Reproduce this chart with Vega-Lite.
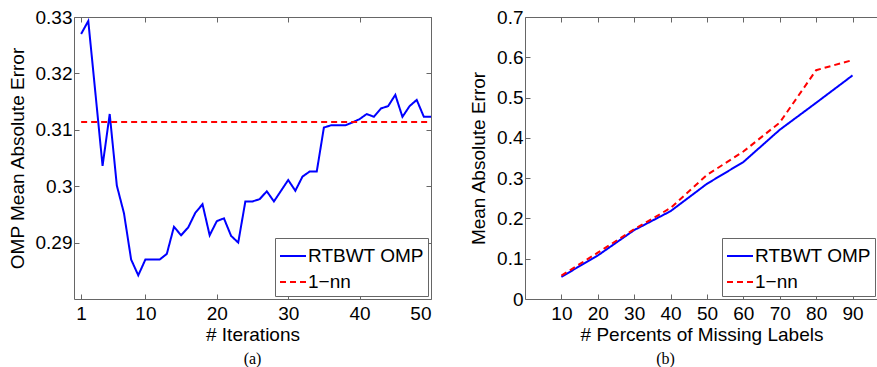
{
  "$schema": "https://vega.github.io/schema/vega-lite/v6.json",
  "padding": {"left": 8, "top": 8, "right": 0, "bottom": 0},
  "spacing": 37,
  "datasets": {
    "a": [
      {"iter": 1, "mae": 0.3270, "series": "RTBWT OMP"},
      {"iter": 2, "mae": 0.3293, "series": "RTBWT OMP"},
      {"iter": 3, "mae": 0.3165, "series": "RTBWT OMP"},
      {"iter": 4, "mae": 0.3036, "series": "RTBWT OMP"},
      {"iter": 5, "mae": 0.3128, "series": "RTBWT OMP"},
      {"iter": 6, "mae": 0.3001, "series": "RTBWT OMP"},
      {"iter": 7, "mae": 0.2952, "series": "RTBWT OMP"},
      {"iter": 8, "mae": 0.2870, "series": "RTBWT OMP"},
      {"iter": 9, "mae": 0.2842, "series": "RTBWT OMP"},
      {"iter": 10, "mae": 0.2870, "series": "RTBWT OMP"},
      {"iter": 11, "mae": 0.2870, "series": "RTBWT OMP"},
      {"iter": 12, "mae": 0.2870, "series": "RTBWT OMP"},
      {"iter": 13, "mae": 0.2880, "series": "RTBWT OMP"},
      {"iter": 14, "mae": 0.2928, "series": "RTBWT OMP"},
      {"iter": 15, "mae": 0.2913, "series": "RTBWT OMP"},
      {"iter": 16, "mae": 0.2927, "series": "RTBWT OMP"},
      {"iter": 17, "mae": 0.2953, "series": "RTBWT OMP"},
      {"iter": 18, "mae": 0.2968, "series": "RTBWT OMP"},
      {"iter": 19, "mae": 0.2913, "series": "RTBWT OMP"},
      {"iter": 20, "mae": 0.2938, "series": "RTBWT OMP"},
      {"iter": 21, "mae": 0.2943, "series": "RTBWT OMP"},
      {"iter": 22, "mae": 0.2912, "series": "RTBWT OMP"},
      {"iter": 23, "mae": 0.2900, "series": "RTBWT OMP"},
      {"iter": 24, "mae": 0.2973, "series": "RTBWT OMP"},
      {"iter": 25, "mae": 0.2973, "series": "RTBWT OMP"},
      {"iter": 26, "mae": 0.2977, "series": "RTBWT OMP"},
      {"iter": 27, "mae": 0.2991, "series": "RTBWT OMP"},
      {"iter": 28, "mae": 0.2973, "series": "RTBWT OMP"},
      {"iter": 29, "mae": 0.2992, "series": "RTBWT OMP"},
      {"iter": 30, "mae": 0.3011, "series": "RTBWT OMP"},
      {"iter": 31, "mae": 0.2992, "series": "RTBWT OMP"},
      {"iter": 32, "mae": 0.3017, "series": "RTBWT OMP"},
      {"iter": 33, "mae": 0.3026, "series": "RTBWT OMP"},
      {"iter": 34, "mae": 0.3026, "series": "RTBWT OMP"},
      {"iter": 35, "mae": 0.3104, "series": "RTBWT OMP"},
      {"iter": 36, "mae": 0.3108, "series": "RTBWT OMP"},
      {"iter": 37, "mae": 0.3108, "series": "RTBWT OMP"},
      {"iter": 38, "mae": 0.3108, "series": "RTBWT OMP"},
      {"iter": 39, "mae": 0.3113, "series": "RTBWT OMP"},
      {"iter": 40, "mae": 0.3119, "series": "RTBWT OMP"},
      {"iter": 41, "mae": 0.3128, "series": "RTBWT OMP"},
      {"iter": 42, "mae": 0.3123, "series": "RTBWT OMP"},
      {"iter": 43, "mae": 0.3138, "series": "RTBWT OMP"},
      {"iter": 44, "mae": 0.3142, "series": "RTBWT OMP"},
      {"iter": 45, "mae": 0.3162, "series": "RTBWT OMP"},
      {"iter": 46, "mae": 0.3123, "series": "RTBWT OMP"},
      {"iter": 47, "mae": 0.3142, "series": "RTBWT OMP"},
      {"iter": 48, "mae": 0.3153, "series": "RTBWT OMP"},
      {"iter": 49, "mae": 0.3123, "series": "RTBWT OMP"},
      {"iter": 50, "mae": 0.3123, "series": "RTBWT OMP"},
      {"iter": 1, "mae": 0.3114, "series": "1−nn"},
      {"iter": 50, "mae": 0.3114, "series": "1−nn"}
    ],
    "b": [
      {"pct": 10, "mae": 0.055, "series": "RTBWT OMP"},
      {"pct": 20, "mae": 0.108, "series": "RTBWT OMP"},
      {"pct": 30, "mae": 0.171, "series": "RTBWT OMP"},
      {"pct": 40, "mae": 0.218, "series": "RTBWT OMP"},
      {"pct": 50, "mae": 0.286, "series": "RTBWT OMP"},
      {"pct": 60, "mae": 0.340, "series": "RTBWT OMP"},
      {"pct": 70, "mae": 0.420, "series": "RTBWT OMP"},
      {"pct": 80, "mae": 0.487, "series": "RTBWT OMP"},
      {"pct": 90, "mae": 0.555, "series": "RTBWT OMP"},
      {"pct": 10, "mae": 0.058, "series": "1−nn"},
      {"pct": 20, "mae": 0.115, "series": "1−nn"},
      {"pct": 30, "mae": 0.173, "series": "1−nn"},
      {"pct": 40, "mae": 0.226, "series": "1−nn"},
      {"pct": 50, "mae": 0.308, "series": "1−nn"},
      {"pct": 60, "mae": 0.366, "series": "1−nn"},
      {"pct": 70, "mae": 0.438, "series": "1−nn"},
      {"pct": 80, "mae": 0.568, "series": "1−nn"},
      {"pct": 90, "mae": 0.593, "series": "1−nn"}
    ]
  },
  "config": {
    "font": "Liberation Sans",
    "view": {"stroke": null},
    "axis": {
      "grid": false,
      "domainColor": "#666666",
      "tickColor": "#666666",
      "tickSize": -5,
      "labelColor": "#000000",
      "titleColor": "#000000",
      "labelFontSize": 19,
      "titleFontSize": 19,
      "titleFontWeight": "normal",
      "labelFont": "Liberation Sans",
      "titleFont": "Liberation Sans"
    },
    "axisX": {"labelPadding": 10, "titlePadding": 2},
    "axisY": {"labelPadding": 7, "titlePadding": 8},
    "legend": {
      "title": null,
      "orient": "bottom-right",
      "offset": 3,
      "strokeColor": "#666666",
      "fillColor": "#ffffff",
      "padding": 4,
      "rowPadding": 2,
      "labelFontSize": 19,
      "labelFont": "Liberation Sans",
      "labelColor": "#000000",
      "labelOffset": 1,
      "symbolType": "stroke",
      "symbolSize": 676,
      "symbolStrokeWidth": 2
    },
    "title": {"font": "Liberation Serif", "fontSize": 16, "fontWeight": "normal", "color": "#000000"}
  },
  "hconcat": [
    {
      "width": 357,
      "height": 282,
      "title": {"text": "(a)", "orient": "bottom", "offset": 7},
      "data": {"name": "a"},
      "layer": [
        {
          "mark": {"type": "line", "strokeWidth": 2, "clip": true},
          "encoding": {
            "x": {"field": "iter", "type": "quantitative", "scale": {"domain": [0, 50], "nice": false},
                  "axis": {"orient": "bottom", "values": [1, 10, 20, 30, 40, 50], "title": "# Iterations"}},
            "y": {"field": "mae", "type": "quantitative", "scale": {"domain": [0.28, 0.33], "nice": false, "zero": false},
                  "axis": {"orient": "left", "values": [0.29, 0.30, 0.31, 0.32, 0.33], "format": ".2~f", "title": "OMP Mean Absolute Error"}},
            "color": {"field": "series", "type": "nominal", "scale": {"domain": ["RTBWT OMP", "1−nn"], "range": ["#0000ff", "#ff0000"]}},
            "strokeDash": {"field": "series", "type": "nominal", "scale": {"domain": ["RTBWT OMP", "1−nn"], "range": [[1, 0], [6, 4]]}}
          }
        },
        {
          "mark": {"type": "line", "opacity": 0},
          "encoding": {
            "x": {"field": "iter", "type": "quantitative", "axis": {"orient": "top", "values": [1, 10, 20, 30, 40, 50], "labels": false, "title": null}},
            "y": {"field": "mae", "type": "quantitative", "axis": {"orient": "right", "values": [0.29, 0.30, 0.31, 0.32, 0.33], "labels": false, "title": null}}
          }
        }
      ]
    },
    {
      "width": 353,
      "height": 282,
      "title": {"text": "(b)", "orient": "bottom", "offset": 7, "dx": -36},
      "data": {"name": "b"},
      "layer": [
        {
          "mark": {"type": "line", "strokeWidth": 2, "clip": true},
          "encoding": {
            "x": {"field": "pct", "type": "quantitative", "scale": {"domain": [0, 97], "nice": false},
                  "axis": {"orient": "bottom", "values": [10, 20, 30, 40, 50, 60, 70, 80, 90], "title": "# Percents of Missing Labels"}},
            "y": {"field": "mae", "type": "quantitative", "scale": {"domain": [0, 0.7], "nice": false},
                  "axis": {"orient": "left", "values": [0, 0.1, 0.2, 0.3, 0.4, 0.5, 0.6, 0.7], "format": ".1~f", "title": "Mean Absolute Error"}},
            "color": {"field": "series", "type": "nominal", "scale": {"domain": ["RTBWT OMP", "1−nn"], "range": ["#0000ff", "#ff0000"]}},
            "strokeDash": {"field": "series", "type": "nominal", "scale": {"domain": ["RTBWT OMP", "1−nn"], "range": [[1, 0], [6, 4]]}}
          }
        },
        {
          "mark": {"type": "line", "opacity": 0},
          "encoding": {
            "x": {"field": "pct", "type": "quantitative", "axis": {"orient": "top", "values": [10, 20, 30, 40, 50, 60, 70, 80, 90], "labels": false, "title": null}}
          }
        }
      ]
    }
  ],
  "resolve": {"scale": {"color": "independent", "strokeDash": "independent", "x": "independent", "y": "independent"}, "legend": {"color": "independent", "strokeDash": "independent"}}
}
